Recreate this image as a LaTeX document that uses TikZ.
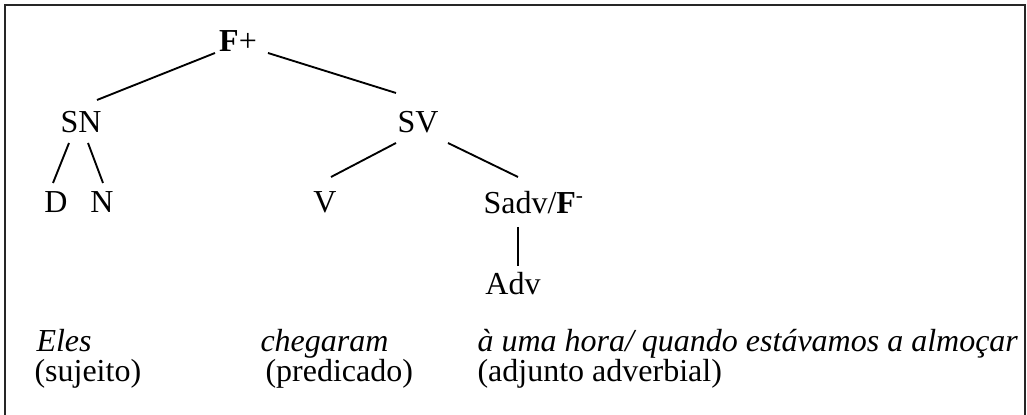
\documentclass[tikz,border=0pt]{standalone}
\usepackage{fontspec}
\setmainfont{Liberation Serif}
\begin{document}
\begin{tikzpicture}[x=0.375pt,y=-0.375pt,
  lbl/.style={inner sep=0pt,anchor=base,font=\fontsize{12}{14}\selectfont},
  lblw/.style={lbl,anchor=base west},
  ital/.style={lblw,font=\fontsize{12}{14}\selectfont\itshape},
  edge/.style={line width=0.7pt},
  frame/.style={line width=0.6pt,draw=black!85}]
\useasboundingbox (0,0) rectangle (1027,415);
\draw[frame] (5,415) -- (5,5) -- (1025,5) -- (1025,415);
% tree nodes
\node[lbl] (F) at (238,52) {\textbf{F}+};
\node[lbl] (SN) at (81,133) {SN};
\node[lbl] (SV) at (418,133) {SV};
\node[lbl] (D) at (56,213) {D};
\node[lbl] (N) at (102,213) {N};
\node[lbl] (V) at (325,213) {V};
\node[lblw] (Sadv) at (483,214) {Sadv/\textbf{F}\textsuperscript{-}};
\node[lbl] (Adv) at (513,295) {Adv};
% connectors
\draw[edge] ([shift={(-23,1)}]F.base) -- ([shift={(16,-33)}]SN.base);
\draw[edge] ([shift={(30,1)}]F.base) -- ([shift={(-22,-40)}]SV.base);
\draw[edge] ([shift={(-12,10)}]SN.base) -- ([shift={(-3,-30)}]D.base);
\draw[edge] ([shift={(7,10)}]SN.base) -- ([shift={(1,-30)}]N.base);
\draw[edge] ([shift={(-22,10)}]SV.base) -- ([shift={(6,-36)}]V.base);
\draw[edge] ([shift={(30,10)}]SV.base) -- ([shift={(35,-37)}]Sadv.base west);
\draw[edge] ([shift={(35,13)}]Sadv.base west) -- ([shift={(5,-29)}]Adv.base);
% sentence
\node[ital] (eles) at (36,352) {Eles};
\node[ital] (cheg) at (260,352) {chegaram};
\node[ital] (hora) at (477,352) {à uma hora/ quando estávamos a almoçar};
\node[lblw] (suj) at (34,382) {(sujeito)};
\node[lblw] (pred) at (265,382) {(predicado)};
\node[lblw] (adj) at (477,382) {(adjunto adverbial)};
\end{tikzpicture}
\end{document}
